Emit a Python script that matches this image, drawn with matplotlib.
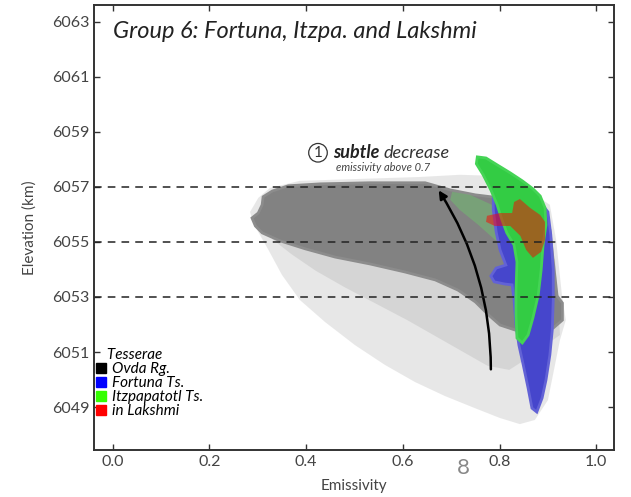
import matplotlib
matplotlib.use("Agg")
import matplotlib.pyplot as plt
from matplotlib.lines import Line2D
from matplotlib.patches import FancyArrowPatch
import numpy as np

plt.rcParams['font.family'] = ['Lato', 'DejaVu Sans']

# outlines of the point clouds (emissivity, elevation km)
ovda_halo_x = [0.290, 0.301, 0.322, 0.350, 0.387, 0.439, 0.501, 0.563, 0.625, 0.687, 0.749,
               0.801, 0.842, 0.873, 0.900, 0.925, 0.937, 0.929, 0.917, 0.904, 0.842, 0.791,
               0.718, 0.635, 0.511, 0.387, 0.325, 0.301, 0.284]
ovda_halo_y = [6055.73, 6055.36, 6054.71, 6053.80, 6052.89, 6052.09, 6051.25, 6050.53, 6049.91,
               6049.40, 6048.96, 6048.60, 6048.38, 6048.53, 6049.25, 6051.44, 6052.16, 6053.07,
               6055.07, 6056.35, 6057.07, 6057.40, 6057.44, 6057.36, 6057.29, 6057.22, 6056.96,
               6056.60, 6056.09]

ovda_mid_x = [0.330, 0.370, 0.420, 0.480, 0.545, 0.610, 0.670, 0.725, 0.775, 0.820, 0.860,
              0.925, 0.915, 0.801, 0.387]
ovda_mid_y = [6055.10, 6054.55, 6053.95, 6053.35, 6052.75, 6052.15, 6051.55, 6051.00, 6050.50,
              6050.35, 6050.80, 6051.62, 6054.35, 6056.53, 6056.53]

ovda_core_x = [0.311, 0.330, 0.363, 0.429, 0.532, 0.646, 0.698, 0.750, 0.801, 0.863, 0.904,
               0.913, 0.919, 0.930, 0.930, 0.911, 0.874, 0.832, 0.801, 0.777, 0.750, 0.714,
               0.667, 0.604, 0.532, 0.460, 0.398, 0.346, 0.309, 0.295, 0.288, 0.301, 0.309]
ovda_core_y = [6056.64, 6056.85, 6057.04, 6057.11, 6057.15, 6057.15, 6056.89, 6056.71, 6056.60,
               6056.35, 6055.44, 6053.98, 6053.04, 6052.78, 6052.16, 6051.87, 6051.73, 6051.80,
               6051.98, 6052.35, 6052.82, 6053.25, 6053.62, 6053.91, 6054.20, 6054.45, 6054.75,
               6055.04, 6055.33, 6055.58, 6055.87, 6056.05, 6056.35]

fortuna_x = [0.787, 0.801, 0.884, 0.900, 0.906, 0.911, 0.911, 0.909, 0.904, 0.896, 0.888, 0.877,
             0.867, 0.859, 0.849, 0.840, 0.834, 0.830, 0.826, 0.811, 0.789, 0.782, 0.793, 0.813,
             0.801, 0.793, 0.787]
fortuna_y = [6057.04, 6056.82, 6056.45, 6056.09, 6055.25, 6053.98, 6052.89, 6051.80, 6050.89,
             6049.98, 6049.33, 6048.82, 6048.96, 6049.69, 6050.53, 6051.25, 6051.98, 6052.89,
             6053.44, 6053.47, 6053.55, 6053.76, 6054.05, 6054.16, 6054.71, 6055.36, 6056.16]

itzpa_x = [0.754, 0.772, 0.795, 0.822, 0.847, 0.869, 0.884, 0.894, 0.896, 0.890, 0.886, 0.880,
           0.869, 0.859, 0.847, 0.836, 0.834, 0.834, 0.836, 0.830, 0.815, 0.805, 0.795, 0.782,
           0.766, 0.752]
itzpa_y = [6058.09, 6058.05, 6057.80, 6057.51, 6057.22, 6056.93, 6056.67, 6056.24, 6055.62,
           6054.89, 6053.98, 6053.07, 6052.24, 6051.62, 6051.33, 6051.51, 6052.35, 6053.25,
           6054.27, 6054.89, 6055.33, 6055.80, 6056.35, 6056.89, 6057.44, 6057.84]

itzpa_sparse_x = [0.702, 0.739, 0.784, 0.817, 0.813, 0.791, 0.756, 0.718, 0.698]
itzpa_sparse_y = [6056.82, 6056.71, 6056.35, 6055.51, 6054.89, 6055.07, 6055.62, 6056.16, 6056.53]

lakshmi_x = [0.774, 0.801, 0.826, 0.830, 0.842, 0.863, 0.884, 0.894, 0.894, 0.886, 0.869,
             0.855, 0.843, 0.822, 0.790, 0.772]
lakshmi_y = [6055.95, 6056.05, 6056.05, 6056.45, 6056.56, 6056.24, 6055.98, 6055.73, 6055.07,
             6054.64, 6054.42, 6054.71, 6055.22, 6055.58, 6055.58, 6055.73]

ref_levels = [6057, 6055, 6053]
arrow_start = (0.782, 6050.27)
arrow_end = (0.671, 6056.96)

legend_names = ['Ovda Rg.', 'Fortuna Ts.', 'Itzpapatotl Ts.', 'in Lakshmi']
legend_colors = ['black', '#0000ff', '#33ff00', '#ff0000']

fig = plt.figure(figsize=(6.31, 4.97), dpi=100)
ax = fig.add_axes([0.149, 0.0946, 0.824, 0.8954])

ax.fill(ovda_halo_x, ovda_halo_y, color='#e2e2e2', alpha=0.8, lw=0)
ax.fill(ovda_mid_x, ovda_mid_y, color='#cacaca', alpha=0.6, lw=0)
ax.fill(ovda_core_x, ovda_core_y, color='#828282', lw=2, ec='#8c8c8c')
ax.fill(itzpa_sparse_x, itzpa_sparse_y, color='#66dd66', alpha=0.35, lw=0)
ax.fill(fortuna_x, fortuna_y, color='#4646cc', lw=2, ec='#6262d6')
ax.fill(itzpa_x, itzpa_y, color='#33cc44', lw=2, ec='#44d455')
ax.fill(lakshmi_x, lakshmi_y, color='#ff0000', alpha=0.5, lw=0)

for lev in ref_levels:
    ax.axhline(lev, color='#222222', ls=(0, (5, 4)), lw=1.1)

arrow = FancyArrowPatch(arrow_start, arrow_end, connectionstyle='arc3,rad=0.15',
                        arrowstyle='-|>', mutation_scale=12, lw=1.8, color='black')
ax.add_patch(arrow)

ax.text(0.4245, 6058.24, '1', ha='center', va='center', fontsize=11, color='#333333',
        bbox=dict(boxstyle='circle,pad=0.15', fc='none', ec='#333333', lw=0.9))
ax.text(0.4555, 6058.24, 'subtle', ha='left', va='center', fontsize=13,
        fontweight='bold', style='italic', color='#222222')
ax.text(0.559, 6058.24, 'decrease', ha='left', va='center', fontsize=13,
        style='italic', color='#333333')
ax.text(0.56, 6057.69, 'emissivity above 0.7', ha='center', va='center', fontsize=8,
        style='italic', color='#444444')

ax.text(0.0, 6062.64, 'Group 6: Fortuna, Itzpa. and Lakshmi', ha='left', va='center',
        fontsize=17, style='italic', color='#222222')

handles = [Line2D([], [], marker='s', ls='', color=c, markersize=6.5) for c in legend_colors]
leg = ax.legend(handles, legend_names, loc='lower left', bbox_to_anchor=(0.004, 0.072),
                frameon=False, title='   Tesserae', alignment='left',
                prop={'style': 'italic', 'size': 11},
                title_fontproperties={'style': 'italic', 'size': 11},
                handlelength=0.6, handletextpad=0.45, labelspacing=0.0,
                borderpad=0, borderaxespad=0)

ax.set_xlim(-0.0387, 1.0366)
ax.set_ylim(6047.44, 6063.61)
ax.set_xticks(np.arange(0, 1.01, 0.2))
ax.set_yticks(np.arange(6049, 6064, 2))
ax.xaxis.set_major_formatter(matplotlib.ticker.FormatStrFormatter('%.1f'))
ax.tick_params(direction='in', length=4, width=1, top=True, right=True,
               labelsize=11.5, labelcolor='#444444', color='#333333')
for sp in ax.spines.values():
    sp.set_linewidth(1.4)
    sp.set_color('#333333')

ax.set_xlabel('Emissivity', fontsize=11, color='#444444', labelpad=7)
ax.set_ylabel('Elevation (km)', fontsize=11, color='#444444', labelpad=11)

fig.text(0.734, 0.058, '8', fontsize=16, color='#888888', ha='center', va='center')

fig.savefig('out.png', dpi=100)
